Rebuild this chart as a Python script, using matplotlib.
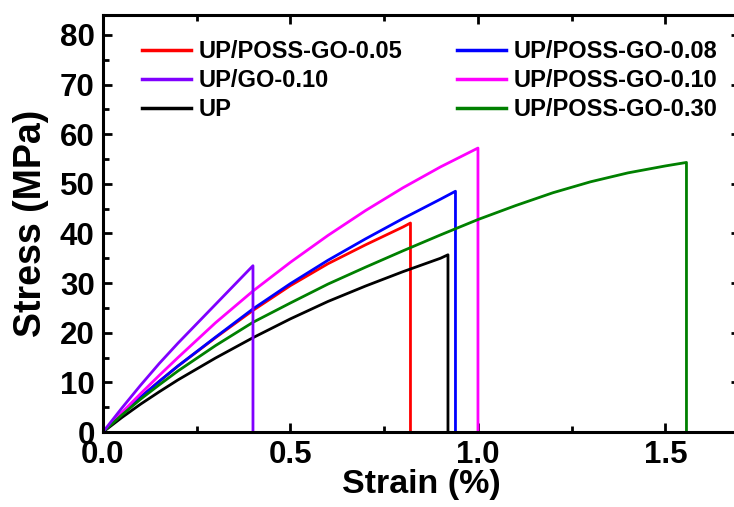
import matplotlib
matplotlib.use("Agg")
import matplotlib.pyplot as plt
from matplotlib.ticker import MultipleLocator, FormatStrFormatter

plt.rcParams['font.family'] = ['Liberation Sans', 'DejaVu Sans']
plt.rcParams['font.weight'] = 'bold'

# Stress-strain curves (strain in %, stress in MPa); each ends at its failure point
strain_up = [0.0, 0.05, 0.1, 0.15, 0.2, 0.3, 0.4, 0.5, 0.6, 0.7, 0.8, 0.9, 0.92]
stress_up = [0.0, 2.9, 5.6, 8.1, 10.5, 14.9, 19.0, 22.8, 26.3, 29.4, 32.3, 35.0, 35.7]

strain_go010 = [0.0, 0.05, 0.1, 0.15, 0.2, 0.25, 0.3, 0.35, 0.40]
stress_go010 = [0.0, 4.8, 9.4, 13.8, 17.9, 21.8, 25.7, 29.6, 33.5]

strain_pg005 = [0.0, 0.05, 0.1, 0.15, 0.2, 0.3, 0.4, 0.5, 0.6, 0.7, 0.8, 0.82]
stress_pg005 = [0.0, 3.6, 7.0, 10.2, 13.3, 19.0, 24.5, 29.5, 33.9, 37.7, 41.3, 42.1]

strain_pg008 = [0.0, 0.05, 0.1, 0.15, 0.2, 0.3, 0.4, 0.5, 0.6, 0.7, 0.8, 0.9, 0.94]
stress_pg008 = [0.0, 3.6, 7.0, 10.2, 13.3, 19.1, 24.8, 29.9, 34.6, 38.9, 43.0, 46.9, 48.5]

strain_pg010 = [0.0, 0.05, 0.1, 0.15, 0.2, 0.3, 0.4, 0.5, 0.6, 0.7, 0.8, 0.9, 1.0]
stress_pg010 = [0.0, 3.9, 7.7, 11.4, 15.0, 22.0, 28.4, 34.2, 39.6, 44.6, 49.2, 53.4, 57.2]

strain_pg030 = [0.0, 0.05, 0.1, 0.15, 0.2, 0.3, 0.4, 0.5, 0.6, 0.7, 0.8, 0.9, 1.0,
                1.1, 1.2, 1.3, 1.4, 1.5, 1.556]
stress_pg030 = [0.0, 3.4, 6.6, 9.5, 12.3, 17.4, 22.1, 26.0, 29.8, 33.2, 36.5, 39.7, 42.8,
                45.6, 48.2, 50.4, 52.2, 53.6, 54.3]

labels = ['UP/POSS-GO-0.05', 'UP/GO-0.10', 'UP',
          'UP/POSS-GO-0.08', 'UP/POSS-GO-0.10', 'UP/POSS-GO-0.30']
colors = {'UP/POSS-GO-0.05': '#ff0000', 'UP/GO-0.10': '#8000ff', 'UP': '#000000',
          'UP/POSS-GO-0.08': '#0000ff', 'UP/POSS-GO-0.10': '#ff00ff',
          'UP/POSS-GO-0.30': '#008000'}
curves = {
    'UP/POSS-GO-0.05': (strain_pg005, stress_pg005),
    'UP/POSS-GO-0.08': (strain_pg008, stress_pg008),
    'UP/POSS-GO-0.10': (strain_pg010, stress_pg010),
    'UP': (strain_up, stress_up),
    'UP/POSS-GO-0.30': (strain_pg030, stress_pg030),
    'UP/GO-0.10': (strain_go010, stress_go010),
}

fig = plt.figure(figsize=(7.34, 5.07), dpi=100)
ax = fig.add_axes([0.1403, 0.1479, 0.8685, 0.8225])

handles = {}
for name, (x, y) in curves.items():
    # add the vertical drop at the failure strain
    xs = list(x) + [x[-1]]
    ys = list(y) + [0.0]
    line, = ax.plot(xs, ys, color=colors[name], lw=2.0, label=name,
                    solid_joinstyle='round')
    handles[name] = line

ax.set_xlim(0, 1.7)
ax.set_ylim(0, 84)
ax.xaxis.set_major_locator(MultipleLocator(0.5))
ax.xaxis.set_minor_locator(MultipleLocator(0.25))
ax.yaxis.set_major_locator(MultipleLocator(10))
ax.yaxis.set_minor_locator(MultipleLocator(5))
ax.xaxis.set_major_formatter(FormatStrFormatter('%.1f'))

for s in ax.spines.values():
    s.set_linewidth(2.2)
ax.tick_params(which='both', direction='in', top=True, right=True, width=2.0)
ax.tick_params(which='major', length=6.5, labelsize=22.5)
ax.tick_params(which='minor', length=4)
ax.tick_params(axis='x', which='major', pad=6)
ax.tick_params(axis='y', which='major', pad=6)
for lab in ax.get_xticklabels() + ax.get_yticklabels():
    lab.set_fontweight('bold')

ax.set_xlabel('Strain (%)', fontsize=24.5, fontweight='bold', labelpad=-1)
ax.set_ylabel('Stress (MPa)', fontsize=27, fontweight='bold', labelpad=8)

leg = ax.legend([handles[n] for n in labels], labels, ncol=2, frameon=False,
                loc='upper left', bbox_to_anchor=(0.061, 0.94),
                prop={'weight': 'bold', 'size': 17},
                handlelength=2.1, handletextpad=0.3, columnspacing=2.3,
                labelspacing=0.26, borderpad=0, borderaxespad=0)
for h in leg.get_lines():
    h.set_linewidth(2.5)

fig.savefig('out.png', dpi=100)
